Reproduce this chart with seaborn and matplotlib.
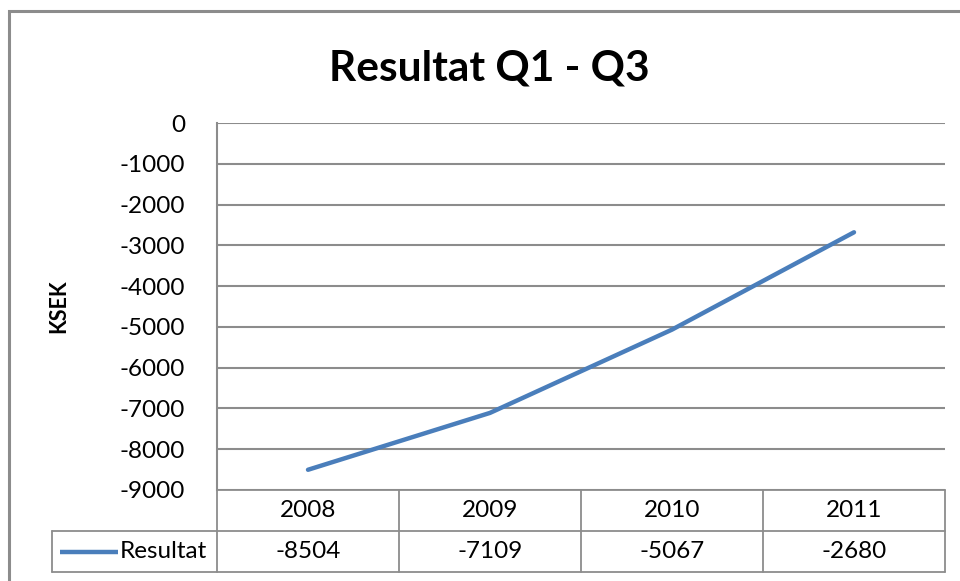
import matplotlib
matplotlib.use("Agg")
import matplotlib.pyplot as plt
import matplotlib.transforms as mtransforms
from matplotlib.patches import Rectangle
import seaborn as sns
import pandas as pd

years = ["2008", "2009", "2010", "2011"]
resultat = [-8504, -7109, -5067, -2680]
yticks = [0, -1000, -2000, -3000, -4000, -5000, -6000, -7000, -8000, -9000]
series_name = "Resultat"
title = "Resultat Q1 - Q3"
ylabel = "KSEK"

sns.set_theme(style="white")
FONT = ["Lato", "DejaVu Sans"]
plt.rcParams["font.family"] = FONT
plt.rcParams["text.color"] = "#000000"
plt.rcParams["axes.labelcolor"] = "#000000"

W, H = 960, 581
fig = plt.figure(figsize=(W / 100, H / 100), dpi=100)

# outer chart border
fig.patches.append(Rectangle((9 / W, -0.01), 1.0, 1 - 11 / H + 0.01, transform=fig.transFigure,
                             fill=False, edgecolor="#8c8c8c", linewidth=2.2))

L, R, T, B = 217, 945, 123, 490
ax = fig.add_axes([L / W, 1 - B / H, (R - L) / W, (B - T) / H])

df = pd.DataFrame({"pos": range(len(years)), "val": resultat})
sns.lineplot(data=df, x="pos", y="val", ax=ax, color="#4a7ebb", linewidth=3.2)

ax.set_xlim(-0.5, len(years) - 0.5)
ax.set_ylim(min(yticks), max(yticks))
ax.set_yticks(yticks)
ax.set_yticklabels([str(v) for v in yticks], fontsize=17.5, color="#000000")
ax.tick_params(axis="y", length=0, pad=23)
ax.set_xticks([])
ax.set_xlabel("")
ax.set_ylabel(ylabel, fontsize=15.5, fontweight="bold", labelpad=36, color="#000000")
ax.grid(axis="y", color="#8c8c8c", linewidth=1.5)
for s in ["top", "right", "bottom"]:
    ax.spines[s].set_visible(False)
ax.spines["left"].set_color("#8c8c8c")
ax.spines["left"].set_linewidth(1.5)

fig.text(0.51, 1 - 68 / H, title, ha="center", va="center", fontsize=30.5, fontweight="bold",
         color="#000000")

# data table below the axes
trans = mtransforms.blended_transform_factory(ax.transData, ax.transAxes)
ph = B - T
r1 = -(531 - B) / ph
r2 = -(572 - B) / ph
col_w = (R - L) / len(years)
leg_left = -0.5 - (L - 52) / col_w
lc = "#8c8c8c"
lw = 1.3
n = len(years)
ax.plot([-0.5, n - 0.5], [0, 0], transform=trans, color=lc, lw=lw, clip_on=False)
ax.plot([leg_left, n - 0.5], [r1, r1], transform=trans, color=lc, lw=lw, clip_on=False)
ax.plot([leg_left, n - 0.5], [r2, r2], transform=trans, color=lc, lw=lw, clip_on=False)
for i in range(n + 1):
    ax.plot([i - 0.5, i - 0.5], [0, r2], transform=trans, color=lc, lw=lw, clip_on=False)
ax.plot([leg_left, leg_left], [r1, r2], transform=trans, color=lc, lw=lw, clip_on=False)

for i, (yr, v) in enumerate(zip(years, resultat)):
    ax.text(i, r1 / 2, yr, transform=trans, ha="center", va="center", fontsize=17.5, color="#000000")
    ax.text(i, (r1 + r2) / 2, str(v), transform=trans, ha="center", va="center", fontsize=17.5,
            color="#000000")

# legend key in table
key_x0 = leg_left + (60 - 52) / col_w
key_x1 = leg_left + (118 - 52) / col_w
ax.plot([key_x0, key_x1], [(r1 + r2) / 2] * 2, transform=trans, color="#4a7ebb", lw=3.2,
        clip_on=False, solid_capstyle="butt")
ax.text(key_x1 + 2 / col_w, (r1 + r2) / 2, series_name, transform=trans, ha="left", va="center",
        fontsize=17.5, color="#000000")

fig.savefig("out.png", dpi=100)
